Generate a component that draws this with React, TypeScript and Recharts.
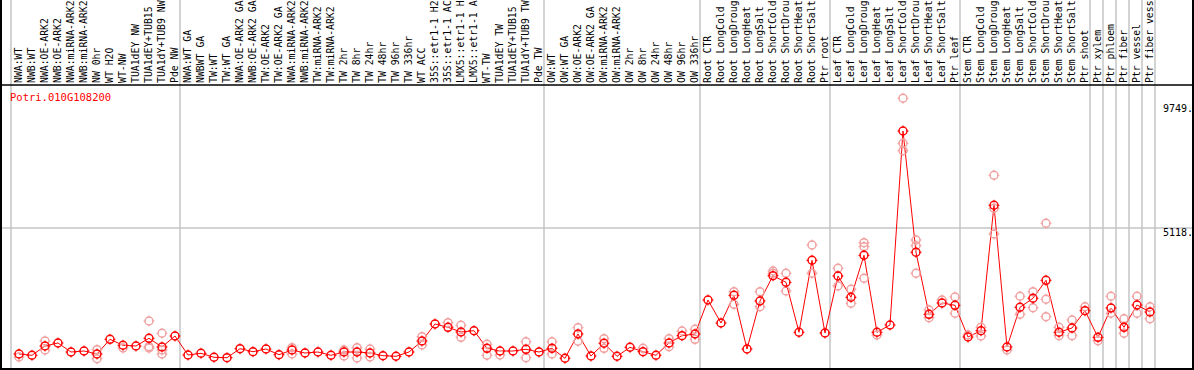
import React from 'react';
import { ComposedChart, Line, Scatter, XAxis, YAxis, ReferenceLine } from 'recharts';

const geneId = 'Potri.010G108200';

// sample names as far as the header shows them
const sampleLabels = [
  'NWA:WT', 'NWB:WT', 'NWA:OE-ARK2', 'NWB:OE-ARK2', 'NWA:miRNA-ARK2', 'NWB:miRNA-ARK2',
  'NW 0hr', 'WT H2O', 'WT-NW', 'TUA1dEY NW', 'TUA1dEY+TUB15', 'TUA1dY+TUB9 NW', 'Pde NW',
  'NWA:WT GA', 'NWBWT GA', 'TW:WT', 'TW:WT GA', 'NWA:OE-ARK2 GA', 'NWB:OE-ARK2 GA',
  'TW:OE-ARK2', 'TW:OE-ARK2 GA', 'NWA:miRNA-ARK2', 'NWB:miRNA-ARK2', 'TW:miRNA-ARK2',
  'TW:miRNA-ARK2', 'TW 2hr', 'TW 8hr', 'TW 24hr', 'TW 48hr', 'TW 96hr', 'TW 336hr',
  'WT ACC', '35S::etr1-1 H2', '35S::etr1-1 AC', 'LMX5::etr1-1 H', 'LMX5::etr1-1 A',
  'WT-TW', 'TUA1dEY TW', 'TUA1dEY+TUB15', 'TUA1dY+TUB9 TW', 'Pde TW',
  'OW:WT', 'OW:WT GA', 'OW:OE-ARK2', 'OW:OE-ARK2 GA', 'OW:miRNA-ARK2', 'OW:miRNA-ARK2',
  'OW 2hr', 'OW 8hr', 'OW 24hr', 'OW 48hr', 'OW 96hr', 'OW 336hr',
  'Root CTR', 'Root LongCold', 'Root LongDroug', 'Root LongHeat', 'Root LongSalt',
  'Root ShortCold', 'Root ShortDrou', 'Root ShortHeat', 'Root ShortSalt', 'Ptr root',
  'Leaf CTR', 'Leaf LongCold', 'Leaf LongDroug', 'Leaf LongHeat', 'Leaf LongSalt',
  'Leaf ShortCold', 'Leaf ShortDrou', 'Leaf ShortHeat', 'Leaf ShortSalt', 'Ptr leaf',
  'Stem CTR', 'Stem LongCold', 'Stem LongDroug', 'Stem LongHeat', 'Stem LongSalt',
  'Stem ShortCold', 'Stem ShortDrou', 'Stem ShortHeat', 'Stem ShortSalt', 'Ptr shoot',
  'Ptr xylem', 'Ptr phloem', 'Ptr fiber', 'Ptr vessel', 'Ptr fiber vess',
];

// mean expression per sample
const meanValues = [
  445, 397, 742, 853, 519, 556, 445, 990, 768, 742,
  1027, 705, 1113, 408, 471, 323, 308, 642, 530, 630,
  419, 593, 482, 519, 397, 519, 519, 482, 382, 360,
  519, 927, 1558, 1435, 1261, 1309, 656, 556, 556, 619,
  519, 656, 286, 1187, 371, 842, 360, 694, 530, 397,
  853, 1124, 1187, 2448, 1595, 2622, 630, 2411, 3349, 3104,
  1250, 3920, 1224, 3338, 2548, 4106, 1250, 1521, 8715, 4217,
  1917, 2336, 2251, 1076, 1309, 5960, 705, 2177, 2511, 3178,
  1250, 1409, 2051, 1064, 2151, 1435, 2262, 2003,
];

// replicates (null = hidden behind the mean marker)
const repA = [
  334, null, 927, null, null, null, 605, null, 668, null,
  1669, 1213, null, null, null, null, null, null, null, null,
  null, 679, null, null, null, 593, 679, 630, null, null,
  null, 1087, null, 1606, 1510, null, 805, 408, null, 901,
  null, 901, null, 1421, null, 1013, null, null, 656, null,
  1013, 1298, 1361, null, null, 2756, null, 2756, 3524, 3438,
  null, 4488, null, 3624, 2845, 4573, 1150, null, 9929, 4673,
  2077, 2448, 2559, 1150, 1435, 7073, 593, 2585, 2756, 5293,
  1435, 1706, 2199, 938, 2585, 1754, 2585, 2199,
];

const repB = [
  null, null, 593, null, null, null, 271, null, null, null,
  716, 445, null, null, null, null, null, null, null, null,
  null, 445, null, null, null, 371, 297, 334, null, null,
  null, 779, null, null, 1064, null, 397, null, null, 308,
  null, 445, null, 916, null, 656, null, null, null, null,
  716, null, 990, null, null, 2288, null, 2199, 3438, 2782,
  null, 3438, null, 2967, 2326, 4425, null, null, 8260, 4462,
  1791, null, 1955, null, 1113, 5849, null, 1918, 2162, 2474,
  1124, 1124, null, null, 1955, 1213, 1955, 1754,
];

const repC = [
  null, null, null, null, null, null, null, null, null, null,
  668, 593, null, null, null, null, null, null, null, null,
  null, null, null, null, null, null, null, null, null, null,
  null, null, null, null, null, null, null, null, null, null,
  null, null, null, null, null, null, null, null, null, null,
  null, null, null, null, null, null, null, null, null, null,
  null, null, null, null, null, 3253, null, null, 7985, 3438,
  null, null, null, null, null, 4896, null, null, null, 1829,
  null, null, null, null, null, null, null, null,
];

// first sample index of each group (last entry = end)
const groupStarts = [0, 13, 41, 53, 63, 73, 83, 84, 85, 86, 87, 88];
const yTicks = [0, 5118, 9749];
const yMax = 10421;

const RED = '#ff0000';
const PINK = '#f0a0a0';
const GRID = '#c4c4c4';
const FONT = '"DejaVu Sans Mono", monospace';
const SHIFT = 0.615;

const meanData = meanValues.map((v, i) => ({ x: i, v }));
const toPoints = (reps: (number | null)[]) =>
  reps.map((v, i) => ({ x: i, v })).filter((d) => d.v !== null);

const Marker = ({ cx, cy, color }: { cx?: number; cy?: number; color: string }) => {
  if (cx == null || cy == null || isNaN(cx) || isNaN(cy)) return null;
  const r = 4;
  return (
    <g>
      <circle cx={cx} cy={cy} r={r} fill="none" stroke={color} strokeWidth={1.4} />
      <line x1={cx} y1={cy - r - 1.5} x2={cx} y2={cy - r + 1} stroke={color} strokeWidth={1} />
      <line x1={cx} y1={cy + r - 1} x2={cx} y2={cy + r + 1.5} stroke={color} strokeWidth={1} />
      <line x1={cx - r - 1.5} y1={cy} x2={cx - r + 1} y2={cy} stroke={color} strokeWidth={1} />
      <line x1={cx + r - 1} y1={cy} x2={cx + r + 1.5} y2={cy} stroke={color} strokeWidth={1} />
    </g>
  );
};

const App = () => {
  const ticks = sampleLabels.map((_, i) => i);

  return (
    <div style={{ width: 1194, height: 370, background: '#fff' }}>
      <style>{'body{margin:0}'}</style>
      <ComposedChart width={1194} height={370} margin={{ top: 0, right: 0, bottom: 4, left: 11 }}>
        <XAxis
          type="number"
          dataKey="x"
          orientation="top"
          height={85}
          domain={[-SHIFT, sampleLabels.length - SHIFT]}
          allowDataOverflow
          ticks={ticks}
          interval={0}
          axisLine={false}
          tickLine={false}
          tick={(p: any) => (
            <text
              key={`t${p.index}`}
              x={p.x}
              y={83}
              dy="0.35em"
              transform={`rotate(-90 ${p.x} 83)`}
              fontSize={9.8}
              fontFamily={FONT}
              fill="#000"
            >
              {sampleLabels[p.payload.value]}
            </text>
          )}
        />
        <YAxis
          orientation="right"
          width={39}
          domain={[0, yMax]}
          allowDataOverflow
          ticks={yTicks}
          axisLine={false}
          tickLine={false}
          tick={(p: any) => (
            <text
              key={`y${p.index}`}
              x={1163}
              y={p.payload.value === 0 ? p.y : p.y + 8.5}
              fontSize={10}
              fontFamily={FONT}
              fill="#000"
            >
              {p.payload.value === 0 ? '0' : `${p.payload.value}.`}
            </text>
          )}
        />

        {groupStarts.map((s) => (
          <ReferenceLine
            key={`g${s}`}
            x={s - SHIFT}
            ifOverflow="visible"
            shape={(p: any) => (
              <line x1={p.x1} x2={p.x1} y1={0} y2={369} stroke={GRID} strokeWidth={1.5} />
            )}
          />
        ))}
        <ReferenceLine
          y={yTicks[1]}
          ifOverflow="visible"
          shape={(p: any) => (
            <line x1={0} x2={1194} y1={p.y1} y2={p.y1} stroke={GRID} strokeWidth={1.5} />
          )}
        />
        <ReferenceLine
          y={yMax}
          ifOverflow="visible"
          shape={(p: any) => (
            <g>
              <line x1={0} x2={1194} y1={p.y1} y2={p.y1} stroke="#000" strokeWidth={1.5} />
              <line x1={1} x2={1} y1={0} y2={370} stroke="#000" strokeWidth={2} />
              <line x1={1193} x2={1193} y1={0} y2={370} stroke="#000" strokeWidth={2} />
              <line x1={0} x2={1194} y1={369} y2={369} stroke="#000" strokeWidth={2} />
              <text x={10} y={p.y1 + 16} fontSize={10.5} fontFamily={FONT} fill={RED}>
                {geneId}
              </text>
            </g>
          )}
        />

        {[repA, repB, repC].map((reps, k) => (
          <Scatter
            key={`r${k}`}
            data={toPoints(reps)}
            dataKey="v"
            isAnimationActive={false}
            shape={(p: any) => <Marker cx={p.cx} cy={p.cy} color={PINK} />}
          />
        ))}
        <Line
          data={meanData}
          dataKey="v"
          type="linear"
          stroke={RED}
          strokeWidth={1}
          isAnimationActive={false}
          dot={(p: any) => (
            <g key={`m${p.index}`}>
              <Marker cx={p.cx} cy={p.cy} color={RED} />
            </g>
          )}
          activeDot={false}
        />
      </ComposedChart>
    </div>
  );
};

export default App;
